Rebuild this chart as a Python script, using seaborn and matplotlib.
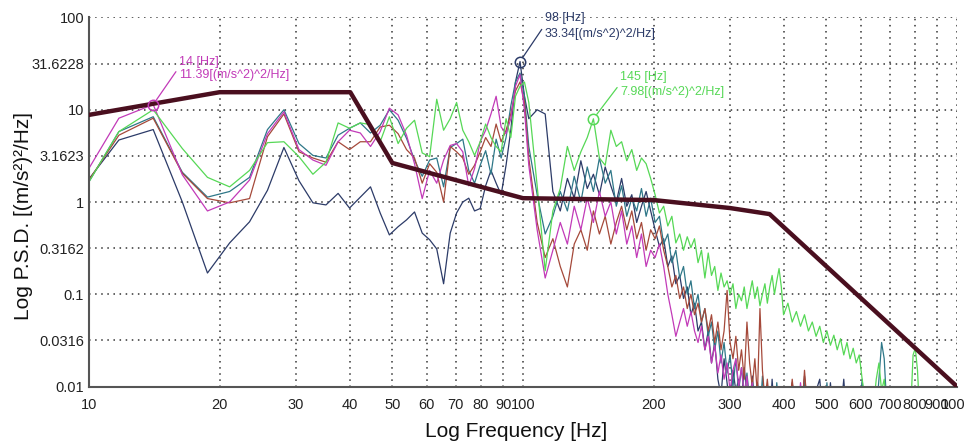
import matplotlib
matplotlib.use("Agg")
import matplotlib.pyplot as plt
from matplotlib.ticker import NullLocator
import pandas as pd
import seaborn as sns

# frequency bins [Hz]: every bin up to 100 Hz, every 2nd up to 400 Hz, every 4th above
freq_hz = [
    9.38, 11.72, 14.06, 16.41, 18.75, 21.09, 23.44, 25.78, 28.13, 30.47,
    32.81, 35.16, 37.5, 39.84, 42.19, 44.53, 46.88, 49.22, 51.56, 53.91,
    56.25, 58.59, 60.94, 63.28, 65.63, 67.97, 70.31, 72.66, 75.0, 77.34,
    79.69, 82.03, 84.38, 86.72, 89.06, 91.41, 93.75, 96.09, 98.44, 100.78,
    103.13, 107.81, 112.5, 117.19, 121.88, 126.56, 131.25, 135.94, 140.63, 145.31,
    150.0, 154.69, 159.38, 164.06, 168.75, 173.44, 178.13, 182.81, 187.5, 192.19,
    196.88, 201.56, 206.25, 210.94, 215.63, 220.31, 225.0, 229.69, 234.38, 239.06,
    243.75, 248.44, 253.13, 257.81, 262.5, 267.19, 271.88, 276.56, 281.25, 285.94,
    290.63, 295.31, 300.0, 304.69, 309.38, 314.06, 318.75, 323.44, 328.13, 332.81,
    337.5, 342.19, 346.88, 351.56, 356.25, 360.94, 365.63, 370.31, 375.0, 379.69,
    384.38, 389.06, 393.75, 398.44,
    407.81, 417.19, 426.56, 435.94, 445.31, 454.69, 464.06, 473.44, 482.81, 492.19,
    501.56, 510.94, 520.31, 529.69, 539.06, 548.44, 557.81, 567.19, 576.56, 585.94,
    595.31, 604.69, 614.06, 623.44, 632.81, 642.19, 651.56, 660.94, 670.31, 679.69,
    689.06, 698.44, 707.81, 717.19, 726.56, 735.94, 745.31, 754.69, 764.06, 773.44,
    782.81, 792.19, 801.56, 810.94, 820.31, 829.69, 839.06, 848.44, 857.81, 867.19,
    876.56, 885.94, 895.31, 904.69, 914.06, 923.44, 932.81, 942.19, 951.56, 960.94,
    970.31, 979.69, 989.06, 998.44,
]

psd_navy = [
    1.2, 4.7, 6.1, 1.0, 0.17, 0.36, 0.61, 1.34, 3.9, 1.7,
    0.98, 0.93, 1.24, 0.86, 1.13, 1.46, 0.76, 0.44, 0.54, 0.64,
    0.78, 0.46, 0.39, 0.31, 0.13, 0.46, 0.76, 1.0, 1.1, 0.8,
    0.85, 1.5, 2.2, 1.6, 1.2, 2.5, 6.0, 20, 33.34, 14,
    8.0, 10, 9.0, 1.3, 0.8, 1.8, 1.1, 2.8, 1.4, 2.0,
    1.2, 2.4, 1.5, 1.0, 1.8, 0.9, 1.2, 0.6, 0.9, 1.3,
    0.8, 0.5, 0.33, 0.4, 0.2, 0.26, 0.13, 0.16, 0.09, 0.12,
    0.06, 0.08, 0.04, 0.05, 0.025, 0.04, 0.018, 0.03, 0.012, 0.008,
    0.02, 0.011, 0.006, 0.015, 0.009, 0.012, 0.007, 0.016, 0.008, 0.005,
    0.013, 0.006, 0.011, 0.005, 0.004, 0.01, 0.006, 0.004, 0.012, 0.005,
    0.004, 0.009, 0.005, 0.004,
    0.006, 0.011, 0.005, 0.004, 0.013, 0.005, 0.004, 0.009, 0.012, 0.004,
    0.003, 0.011, 0.004, 0.003, 0.005, 0.012, 0.004, 0.003, 0.003, 0.003,
    0.004, 0.011, 0.004, 0.003, 0.003, 0.003, 0.003, 0.004, 0.003, 0.003,
    0.003, 0.003, 0.003, 0.003, 0.003, 0.003, 0.003, 0.003, 0.003, 0.003,
    0.003, 0.003, 0.003, 0.003, 0.003, 0.003, 0.003, 0.003, 0.003, 0.003,
    0.003, 0.003, 0.003, 0.003, 0.003, 0.003, 0.003, 0.003, 0.003, 0.003,
    0.003, 0.003, 0.003, 0.003,
]

psd_teal = [
    1.0, 5.8, 8.4, 2.1, 1.13, 1.3, 1.85, 6.1, 10, 4.3,
    3.2, 3.0, 5.3, 6.3, 7.2, 5.6, 6.8, 10, 7.7, 4.9,
    2.85, 1.9, 2.85, 3.0, 1.46, 3.9, 4.3, 4.8, 2.2, 1.6,
    2.5, 3.6, 2.0, 4.8, 3.0, 5.0, 11, 20, 25, 14,
    4.0, 1.2, 0.45, 0.7, 1.3, 0.8, 1.9, 1.0, 2.4, 1.3,
    3.0, 1.6, 2.2, 0.9, 1.5, 0.7, 1.1, 0.8, 1.4, 0.7,
    1.1, 0.6, 0.7, 0.35, 0.45, 0.22, 0.3, 0.15, 0.2, 0.1,
    0.14, 0.07, 0.1, 0.05, 0.07, 0.035, 0.05, 0.025, 0.04, 0.018,
    0.03, 0.014, 0.022, 0.01, 0.02, 0.009, 0.016, 0.008, 0.014, 0.007,
    0.012, 0.006, 0.011, 0.005, 0.013, 0.006, 0.01, 0.005, 0.009, 0.004,
    0.011, 0.005, 0.004, 0.008,
    0.004, 0.006, 0.003, 0.004, 0.012, 0.004, 0.003, 0.005, 0.004, 0.003,
    0.011, 0.003, 0.004, 0.003, 0.005, 0.003, 0.01, 0.003, 0.003, 0.004,
    0.003, 0.012, 0.004, 0.003, 0.003, 0.003, 0.005, 0.012, 0.03, 0.02,
    0.006, 0.003, 0.003, 0.003, 0.003, 0.003, 0.003, 0.003, 0.003, 0.003,
    0.003, 0.003, 0.003, 0.003, 0.003, 0.003, 0.003, 0.003, 0.003, 0.003,
    0.003, 0.003, 0.003, 0.003, 0.003, 0.003, 0.003, 0.003, 0.003, 0.003,
    0.003, 0.003, 0.003, 0.003,
]

psd_brown = [
    1.1, 5.3, 8.1, 2.05, 1.09, 0.98, 1.09, 5.1, 9.0, 3.5,
    3.0, 2.7, 4.5, 3.7, 4.5, 4.5, 6.5, 6.8, 5.5, 3.7,
    3.0, 1.6, 2.6, 2.1, 1.0, 4.0, 3.5, 3.0, 2.0, 2.5,
    3.5, 5.0, 4.0, 7.0, 4.5, 6.0, 9.0, 16, 20, 12,
    3.0, 0.6, 0.25, 0.4, 0.2, 0.12, 0.35, 0.5, 0.3, 0.8,
    0.45, 0.7, 0.35, 0.6, 0.9, 0.5, 0.8, 0.4, 0.6, 0.3,
    0.5, 0.4, 0.55, 0.3, 0.2, 0.12, 0.16, 0.09, 0.12, 0.07,
    0.1, 0.06, 0.08, 0.05, 0.07, 0.04, 0.06, 0.03, 0.05, 0.025,
    0.04, 0.11, 0.03, 0.02, 0.035, 0.015, 0.025, 0.012, 0.05, 0.018,
    0.01, 0.02, 0.008, 0.07, 0.015, 0.007, 0.012, 0.006, 0.01, 0.005,
    0.009, 0.004, 0.007, 0.004,
    0.004, 0.012, 0.004, 0.003, 0.015, 0.004, 0.003, 0.01, 0.003, 0.003,
    0.003, 0.003, 0.003, 0.003, 0.003, 0.003, 0.003, 0.003, 0.003, 0.003,
    0.003, 0.003, 0.003, 0.003, 0.003, 0.003, 0.003, 0.003, 0.003, 0.003,
    0.003, 0.003, 0.003, 0.003, 0.003, 0.003, 0.003, 0.003, 0.003, 0.003,
    0.003, 0.003, 0.003, 0.003, 0.003, 0.003, 0.003, 0.003, 0.003, 0.003,
    0.003, 0.003, 0.003, 0.003, 0.003, 0.003, 0.003, 0.003, 0.003, 0.003,
    0.003, 0.003, 0.003, 0.003,
]

psd_magenta = [
    1.4, 8.1, 11.39, 1.97, 0.8, 1.0, 1.73, 5.5, 9.5, 3.7,
    2.85, 2.5, 4.5, 6.0, 5.6, 4.0, 5.8, 10.4, 8.8, 5.3,
    2.6, 1.09, 2.2, 1.6, 2.85, 4.1, 4.3, 3.5, 1.5, 2.3,
    4.5, 6.0, 9.0, 14, 6.5, 5.5, 8.0, 18, 24, 10,
    2.5, 0.5, 0.15, 0.3, 0.6, 0.35, 0.9, 0.5, 1.1, 0.6,
    1.3, 0.7, 1.0, 0.45, 0.8, 0.35, 0.55, 0.25, 0.45, 0.2,
    0.3, 0.25, 0.35, 0.2, 0.1, 0.06, 0.035, 0.05, 0.07, 0.045,
    0.065, 0.04, 0.03, 0.045, 0.025, 0.035, 0.018, 0.028, 0.014, 0.022,
    0.012, 0.018, 0.009, 0.015, 0.02, 0.01, 0.016, 0.008, 0.013, 0.006,
    0.011, 0.005, 0.009, 0.004, 0.008, 0.004, 0.01, 0.004, 0.007, 0.003,
    0.006, 0.003, 0.005, 0.003,
    0.004, 0.009, 0.003, 0.011, 0.004, 0.003, 0.008, 0.003, 0.003, 0.003,
    0.003, 0.003, 0.003, 0.003, 0.003, 0.003, 0.003, 0.003, 0.003, 0.003,
    0.003, 0.003, 0.003, 0.003, 0.003, 0.003, 0.003, 0.003, 0.003, 0.003,
    0.003, 0.003, 0.003, 0.003, 0.003, 0.003, 0.003, 0.003, 0.003, 0.003,
    0.003, 0.003, 0.003, 0.003, 0.003, 0.003, 0.003, 0.003, 0.003, 0.003,
    0.003, 0.003, 0.003, 0.003, 0.003, 0.003, 0.003, 0.003, 0.003, 0.003,
    0.003, 0.003, 0.003, 0.003,
]

psd_green = [
    1.0, 5.8, 10, 3.8, 1.85, 1.46, 2.2, 4.4, 4.5, 3.1,
    2.0, 2.7, 7.2, 6.3, 7.2, 6.9, 4.5, 8.4, 4.3, 6.3,
    7.7, 3.4, 3.1, 13, 6.0, 8.0, 12, 6.0, 4.5, 3.2,
    4.5, 7.0, 5.0, 4.0, 3.5, 8.0, 5.0, 14, 18, 20,
    12, 1.5, 0.18, 0.8, 1.4, 4.0, 2.2, 3.5, 5.0, 7.98,
    3.0, 2.5, 6.0, 4.0, 4.5, 2.8, 3.7, 2.2, 3.0, 2.6,
    1.8, 1.2, 0.76, 0.9, 0.55, 0.7, 0.36, 0.45, 0.3, 0.42,
    0.32, 0.4, 0.22, 0.3, 0.15, 0.28, 0.16, 0.2, 0.11, 0.17,
    0.12, 0.14, 0.1, 0.13, 0.07, 0.1, 0.085, 0.12, 0.07, 0.1,
    0.14, 0.09, 0.12, 0.075, 0.1, 0.13, 0.08, 0.12, 0.16, 0.1,
    0.14, 0.19, 0.12, 0.06,
    0.08, 0.05, 0.065, 0.045, 0.06, 0.04, 0.05, 0.035, 0.045, 0.03,
    0.04, 0.028, 0.036, 0.025, 0.033, 0.022, 0.03, 0.02, 0.026, 0.018,
    0.022, 0.012, 0.007, 0.005, 0.004, 0.006, 0.012, 0.018, 0.009, 0.012,
    0.006, 0.003, 0.003, 0.003, 0.003, 0.003, 0.003, 0.003, 0.003, 0.003,
    0.006, 0.022, 0.026, 0.015, 0.005, 0.003, 0.003, 0.003, 0.003, 0.003,
    0.003, 0.003, 0.003, 0.003, 0.003, 0.003, 0.003, 0.003, 0.003, 0.003,
    0.003, 0.003, 0.003, 0.003,
]

# test specification profile
spec_freq = [10, 20, 40, 50, 100, 200, 300, 370, 1000]
spec_psd = [8.8, 15.5, 15.5, 2.65, 1.1, 1.05, 0.86, 0.74, 0.01]

# marked peaks (series, frequency, value)
peak_series = ["magenta", "navy", "green"]
peak_freq = [14.06, 98.44, 145.31]
peak_psd = [11.39, 33.34, 7.98]

x_ticks = [10, 20, 30, 40, 50, 60, 70, 80, 90, 100, 200, 300, 400, 500, 600, 700, 800, 900, 1000]
x_tick_labels = [str(t) for t in x_ticks]
y_ticks = [0.01, 0.0316, 0.1, 0.3162, 1, 3.1623, 10, 31.6228, 100]
y_tick_labels = ["0.01", "0.0316", "0.1", "0.3162", "1", "3.1623", "10", "31.6228", "100"]

colors = {
    "navy": "#2c3b68",
    "teal": "#2e7788",
    "brown": "#a5493a",
    "magenta": "#c23ab8",
    "green": "#56d856",
}
series = {
    "navy": psd_navy,
    "teal": psd_teal,
    "brown": psd_brown,
    "magenta": psd_magenta,
    "green": psd_green,
}

frames = []
for name, vals in series.items():
    assert len(vals) == len(freq_hz), name
    frames.append(pd.DataFrame({"freq": freq_hz, "psd": vals, "run": name}))
df = pd.concat(frames, ignore_index=True)

sns.set_theme(style="white")
plt.rcParams["font.family"] = ["Liberation Sans", "DejaVu Sans"]

fig = plt.figure(figsize=(9.65, 4.43), dpi=100)
ax = fig.add_axes([0.0922, 0.1275, 0.8995, 0.833])

sns.lineplot(data=df, x="freq", y="psd", hue="run", palette=colors,
             sort=False, estimator=None, legend=False, linewidth=0.9, ax=ax)
sns.lineplot(x=spec_freq, y=spec_psd, color="#4a0f1f", linewidth=3.2,
             sort=False, ax=ax, zorder=4)

ax.set_xscale("log")
ax.set_yscale("log")
ax.set_xlim(10, 1000)
ax.set_ylim(0.01, 100)

narrow = ["Liberation Sans Narrow", "Liberation Sans", "DejaVu Sans"]
ax.set_xticks(x_ticks)
ax.set_xticklabels(x_tick_labels, family=narrow, fontsize=10.5)
ax.set_yticks(y_ticks)
ax.set_yticklabels(y_tick_labels, family=narrow, fontsize=10.5)
ax.xaxis.set_minor_locator(NullLocator())
ax.yaxis.set_minor_locator(NullLocator())
ax.tick_params(axis="x", direction="in", length=12, width=1.3, color="#444444",
               labelcolor="#222222", pad=8)
ax.tick_params(axis="y", direction="in", length=7, width=1.3, color="#444444",
               labelcolor="#222222", pad=3.5)

ax.grid(True, which="major", linestyle=(0, (1, 3)), color="#333333", linewidth=1.1)
for side in ["top", "right"]:
    ax.spines[side].set_visible(False)
for side in ["left", "bottom"]:
    ax.spines[side].set_color("#555555")
    ax.spines[side].set_linewidth(1.5)

ax.set_xlabel("Log Frequency [Hz]", fontsize=15, color="#111111")
ax.set_ylabel("Log P.S.D. [(m/s²)²/Hz]", fontsize=15, color="#111111")
ax.xaxis.set_label_coords(0.492, -0.096)
ax.yaxis.set_label_coords(-0.064, 0.462)

# peak markers with data tips
tip_offsets = [(26, 49), (25, 50), (27, 48)]
tip_spacing = [1.15, 1.55, 1.4]
for name, f, v, off, ls in zip(peak_series, peak_freq, peak_psd, tip_offsets, tip_spacing):
    c = colors[name]
    ax.plot([f], [v], marker="o", markersize=7.5, markerfacecolor="none",
            markeredgecolor=c, markeredgewidth=1.1, zorder=6)
    ax.annotate(f"{round(f)} [Hz]\n{v:.2f}[(m/s^2)^2/Hz]", xy=(f, v),
                xytext=off, textcoords="offset pixels", ha="left", va="top",
                fontsize=9, family=narrow, color=c, linespacing=ls,
                arrowprops=dict(arrowstyle="-", color=c, lw=0.9,
                                relpos=(0, 0.55), shrinkA=0, shrinkB=4),
                zorder=7)

fig.savefig("out.png", dpi=100)
